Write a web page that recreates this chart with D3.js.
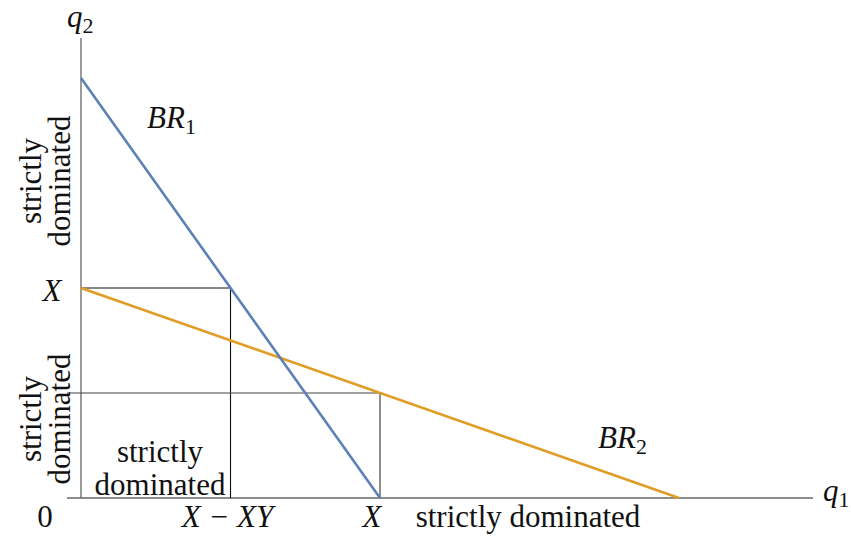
<!DOCTYPE html>
<html>
<head>
<meta charset="utf-8">
<script src="https://cdn.jsdelivr.net/npm/d3@7"></script>
<style>
  html, body { margin: 0; padding: 0; background: #fff; }
</style>
</head>
<body>
<svg id="chart" width="851" height="537"></svg>
<script>
// values in units of X (X = 1, Y = 0.5)
const X = 1;
const Y = 0.5;
const br1 = [[0, 2 * X], [X, 0]];          // blue best response of firm 1
const br2 = [[0, X], [2 * X, 0]];          // orange best response of firm 2
const xTicks = [{ v: 0, label: "0" }, { v: X - X * Y, label: "X − XY" }, { v: X, label: "X" }];

const FONT = '"Liberation Serif"';
const fs = 31;

const svg = d3.select("#chart");

const x = d3.scaleLinear().domain([0, 2.448]).range([81, 813]);
const y = d3.scaleLinear().domain([0, 2.19]).range([498, 38]);

const line = d3.line().x(d => x(d[0])).y(d => y(d[1]));

// axes
svg.append("line")
  .attr("x1", 67).attr("x2", x(2.448))
  .attr("y1", y(0)).attr("y2", y(0))
  .attr("stroke", "#666").attr("stroke-width", 1.3);
svg.append("line")
  .attr("x1", x(0)).attr("x2", x(0))
  .attr("y1", y(0)).attr("y2", y(2.19))
  .attr("stroke", "#666").attr("stroke-width", 1.3);

// guide lines
const yAtX = 1 - X / 2; // BR2 at q1 = X
svg.append("path")
  .attr("d", line([[0, X], [X - X * Y, X], [X - X * Y, 0]]))
  .attr("fill", "none").attr("stroke", "#111").attr("stroke-width", 1.1);
svg.append("path")
  .attr("d", `M67,${y(yAtX)}` + line([[0, yAtX], [X, yAtX], [X, 0]]).replace(/^M/, "L"))
  .attr("fill", "none").attr("stroke", "#444").attr("stroke-width", 1.2);

// best responses
svg.append("path").attr("d", line(br2))
  .attr("fill", "none").attr("stroke", "#e19c24").attr("stroke-width", 2.6);
svg.append("path").attr("d", line(br1))
  .attr("fill", "none").attr("stroke", "#5e81b5").attr("stroke-width", 2.6);

function txt(sel) {
  return sel.style("font-family", FONT).attr("font-size", fs).attr("fill", "#111");
}

function mathLabel(px, py, base, sub) {
  const t = txt(svg.append("text")).attr("x", px).attr("y", py);
  t.append("tspan").attr("font-style", "italic").text(base);
  if (sub) t.append("tspan").attr("font-size", 22).attr("dy", 6).text(sub);
  return t;
}

mathLabel(67, 27, "q", "2");
mathLabel(823, 501, "q", "1");
mathLabel(147, 128, "BR", "1");
mathLabel(598, 448, "BR", "2");

// y label X
txt(svg.append("text")).attr("x", 52).attr("y", y(X) + 13)
  .attr("font-style", "italic").attr("text-anchor", "middle").text("X");

// x tick labels
txt(svg.selectAll("text.tick").data(xTicks).join("text"))
  .attr("class", "tick")
  .attr("x", d => d.v === 0 ? 45 : x(d.v) - (d.v === X ? 8 : 3))
  .attr("y", 527)
  .attr("text-anchor", "middle")
  .attr("font-style", d => d.v === 0 ? "normal" : "italic")
  .text(d => d.label);

txt(svg.append("text")).attr("x", 528).attr("y", 527)
  .attr("text-anchor", "middle").text("strictly dominated");

// box label
txt(svg.append("text")).attr("x", 160).attr("y", 462)
  .attr("text-anchor", "middle").text("strictly");
txt(svg.append("text")).attr("x", 160).attr("y", 495)
  .attr("text-anchor", "middle").text("dominated");

// rotated labels on the q2 axis
function rotLabel(cy) {
  txt(svg.append("text")).attr("transform", `translate(41,${cy}) rotate(-90)`)
    .attr("text-anchor", "middle").text("strictly");
  txt(svg.append("text")).attr("transform", `translate(70,${cy}) rotate(-90)`)
    .attr("text-anchor", "middle").text("dominated");
}
rotLabel(181);
rotLabel(419);
</script>
</body>
</html>
